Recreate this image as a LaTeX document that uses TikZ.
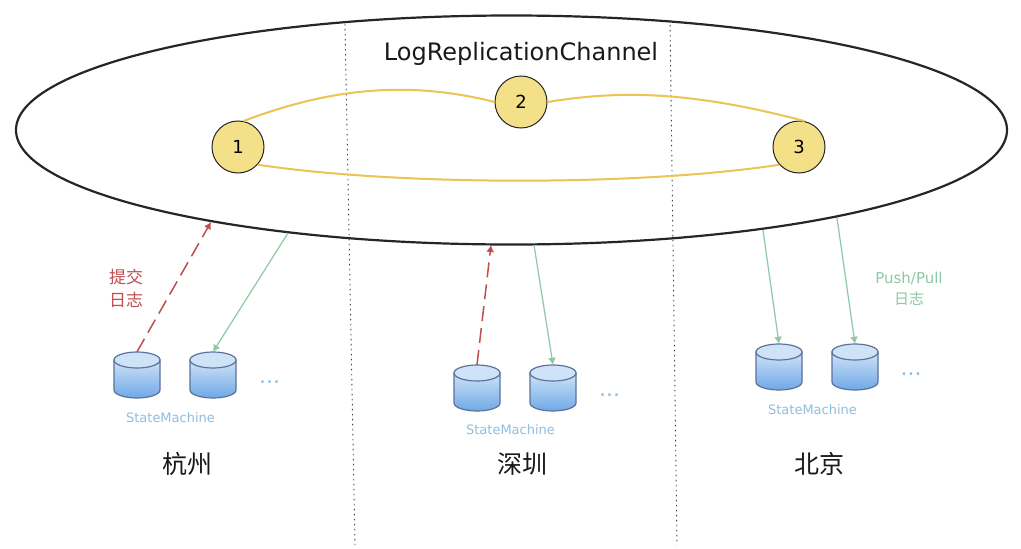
\documentclass[tikz,border=0pt]{standalone}
\usepackage{fontspec}
\setmainfont{DejaVu Sans}
\newfontfamily\cjk{Noto Sans CJK SC}
\usetikzlibrary{arrows.meta,shapes.geometric}
\definecolor{gold}{HTML}{EBC452}
\definecolor{pale}{HTML}{F5E08A}
\definecolor{redc}{HTML}{BE4F50}
\definecolor{greenc}{HTML}{8CC9A4}
\definecolor{bluet}{HTML}{8FBFDF}
\definecolor{dbline}{HTML}{5C7299}
\definecolor{dbtop}{HTML}{CFE3F8}
\definecolor{dbbot}{HTML}{6FA8E6}
\tikzset{
 peer/.style={circle,draw=black!85,line width=1pt,fill=pale,minimum size=52pt,inner sep=0pt,font=\fontsize{18}{18}\selectfont},
 link/.style={gold,line width=2pt},
 commit/.style={redc,line width=1.5pt,dash pattern=on 15pt off 7pt,-{Latex[length=7pt,width=8pt]}},
 pull/.style={greenc,line width=1.2pt,-{Latex[length=7pt,width=8pt]}},
 border/.style={black!75,line width=0.9pt,dash pattern=on 1.5pt off 3.5pt},
 dbbox/.style={minimum width=46pt,minimum height=46pt,inner sep=0pt},
 city/.style={font=\cjk\fontsize{25}{25}\selectfont,text=black!90},
 smlabel/.style={font=\fontsize{13}{13}\selectfont,text=bluet},
 dots/.style={font=\fontsize{22}{22}\selectfont,text=bluet},
 redt/.style={font=\cjk\fontsize{17}{17}\selectfont,text=redc},
 greent/.style={font=\fontsize{15}{15}\selectfont,text=greenc},
 greentc/.style={font=\cjk\fontsize{15}{15}\selectfont,text=greenc},
}
\newcommand{\dbcyl}[3]{%
 \node[dbbox] (#1) at (#2,#3) {};
 \path[top color=dbtop,bottom color=dbbot,draw=dbline,line width=1.2pt]
  (#2-23,#3-15) -- (#2-23,#3+15) arc[start angle=180,end angle=0,x radius=23,y radius=8] -- (#2+23,#3-15) -- cycle;
 \path[fill=dbtop,draw=dbline,line width=1.2pt] (#2,#3-15) ellipse[x radius=23,y radius=8];
}
\begin{document}
\begin{tikzpicture}[x=1pt,y=-1pt]
\useasboundingbox (0,0) rectangle (1021,549);
\fill[white] (0,0) rectangle (1021,549);
\node[draw=black!85,line width=2.2pt,ellipse,minimum width=991pt,minimum height=229pt,inner sep=0pt] (chan) at (511.5,130) {};
\coordinate (b1a) at (345,24); \coordinate (b1b) at (355,545);
\coordinate (b2a) at (670,20); \coordinate (b2b) at (677,545);
\draw[border] (b1a) -- (b1b);
\draw[border] (b2a) -- (b2b);
\node[font=\fontsize{24}{24}\selectfont,text=black!90] (title) at (521,54) {LogReplicationChannel};
\node[peer] (n1) at (238,147) {1};
\node[peer] (n2) at (521,102) {2};
\node[peer] (n3) at (799,147) {3};
\draw[link] (n1.78) .. controls (320,92) and (400,78) .. (n2.west);
\draw[link] (n2.east) .. controls (610,92) and (680,88) .. (n3.78);
\draw[link] (n1.-42) .. controls (400,186) and (640,186) .. (n3.222);
\dbcyl{d1}{137}{375}
\dbcyl{d2}{213}{375}
\dbcyl{d3}{477}{388}
\dbcyl{d4}{553}{388}
\dbcyl{d5}{779}{367}
\dbcyl{d6}{855}{367}
\coordinate (c1) at (211,222); \coordinate (c2) at (288,233);
\coordinate (c3) at (491,245); \coordinate (c4) at (534,245);
\coordinate (c5) at (763,230); \coordinate (c6) at (837,218);
\draw[commit] (d1.north) -- (c1);
\draw[pull] (c2) -- (d2.north);
\draw[commit] (d3.north) -- (c3);
\draw[pull] (c4) -- (d4.north);
\draw[pull] (c5) -- (d5.north);
\draw[pull] (c6) -- (d6.north);
\node[redt] (t1) at (126,277) {提交};
\node[redt] (t2) at (126,300) {日志};
\node[greent] (t3) at (909,278) {Push/Pull};
\node[greentc] (t4) at (909,299) {日志};
\node[smlabel] (s1) at (170.5,418) {StateMachine};
\node[smlabel] (s2) at (510.5,430) {StateMachine};
\node[smlabel] (s3) at (812.5,410) {StateMachine};
\node[dots] (e1) at (269.5,382) {...};
\node[dots] (e2) at (609.5,395) {...};
\node[dots] (e3) at (911,374) {...};
\node[city] (h) at (187,464) {杭州};
\node[city] (sz) at (522,464) {深圳};
\node[city] (bj) at (819,464) {北京};
\end{tikzpicture}
\end{document}
